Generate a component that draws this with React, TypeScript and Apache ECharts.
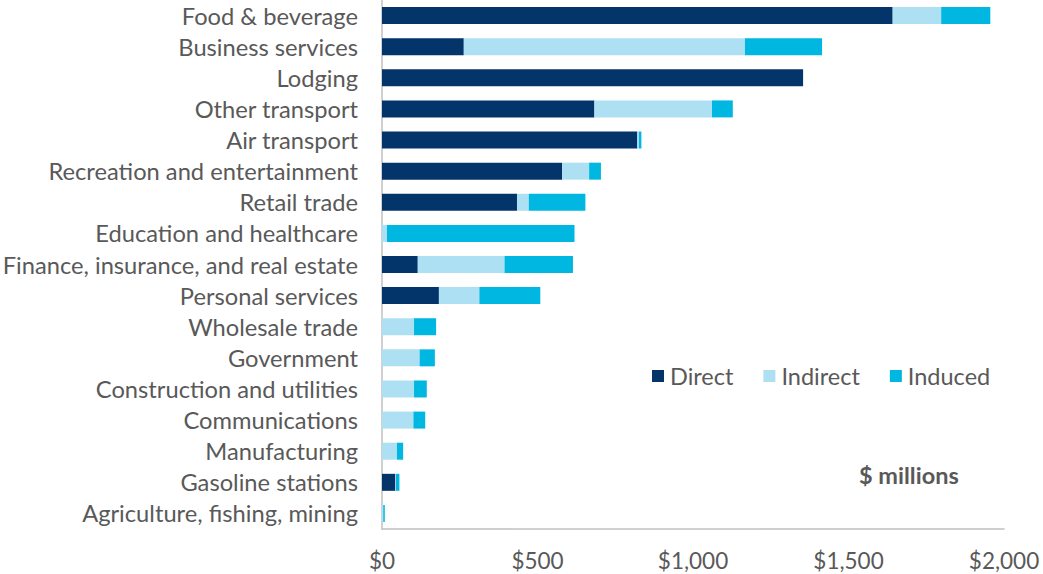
import React, { useEffect, useRef } from "react";
import * as echarts from "echarts";

const categories = [
  "Food & beverage",
  "Business services",
  "Lodging",
  "Other transport",
  "Air transport",
  "Recreation and entertainment",
  "Retail trade",
  "Education and healthcare",
  "Finance, insurance, and real estate",
  "Personal services",
  "Wholesale trade",
  "Government",
  "Construction and utilities",
  "Communications",
  "Manufacturing",
  "Gasoline stations",
  "Agriculture, fishing, mining",
];

const direct = [1642, 263, 1354, 683, 821, 579, 434, 0, 115, 183, 0, 0, 0, 0, 0, 43, 0];
const indirect = [156, 904, 0, 378, 5, 87, 38, 16, 279, 130, 103, 121, 103, 101, 48, 2, 4];
const induced = [158, 248, 0, 67, 8, 38, 182, 603, 220, 196, 71, 49, 41, 38, 20, 11, 5];

const xTicks = { min: 0, max: 2000, interval: 500 };

const COLORS = ["#03356B", "#AEE0F3", "#00B7E1"];
const TEXT = "#595959";
const FONT = "Lato, 'Open Sans', sans-serif";

export default function App() {
  const ref = useRef<HTMLDivElement>(null);

  useEffect(() => {
    document.body.style.margin = "0";
    const chart = echarts.init(ref.current!, null, { renderer: "svg" });
    const mk = (name: string, data: number[], i: number) => ({
      name,
      type: "bar",
      stack: "total",
      data,
      barWidth: 17,
      itemStyle: { color: COLORS[i] },
    });
    chart.setOption({
      animation: false,
      textStyle: { fontFamily: FONT },
      grid: {
        left: 382,
        right: 39,
        top: 0,
        bottom: 45,
        containLabel: false,
        outerBoundsMode: "none",
      },
      title: {
        text: "$ millions",
        left: 854,
        top: 458,
        textStyle: { fontFamily: FONT, fontSize: 23.5, fontWeight: "bold", color: TEXT },
      },
      legend: {
        left: 647,
        top: 359,
        itemWidth: 12,
        itemHeight: 12,
        itemGap: 30,
        icon: "rect",
        textStyle: { fontFamily: FONT, fontSize: 23.5, color: TEXT, padding: [0, 0, 0, 1] },
        data: ["Direct", "Indirect", "Induced"],
      },
      xAxis: {
        type: "value",
        min: xTicks.min,
        max: xTicks.max,
        interval: xTicks.interval,
        splitLine: { show: false },
        axisTick: { show: false },
        axisLine: { show: true, lineStyle: { color: "#C0C0C0", width: 1.5 } },
        axisLabel: {
          fontFamily: FONT,
          fontSize: 22.5,
          color: TEXT,
          margin: 20,
          formatter: (v: number) => "$" + v.toLocaleString("en-US"),
        },
      },
      yAxis: {
        type: "category",
        inverse: true,
        data: categories,
        axisTick: { show: false },
        axisLine: { show: true, lineStyle: { color: "#C0C0C0", width: 1.5 } },
        axisLabel: { fontFamily: FONT, fontSize: 23.7, color: TEXT, margin: 24, interval: 0 },
      },
      series: [mk("Direct", direct, 0), mk("Indirect", indirect, 1), mk("Induced", induced, 2)],
    });
    return () => chart.dispose();
  }, []);

  return (
    <div
      ref={ref}
      style={{ position: "fixed", left: 0, top: 0, width: 1043, height: 574, background: "#fff" }}
    />
  );
}
